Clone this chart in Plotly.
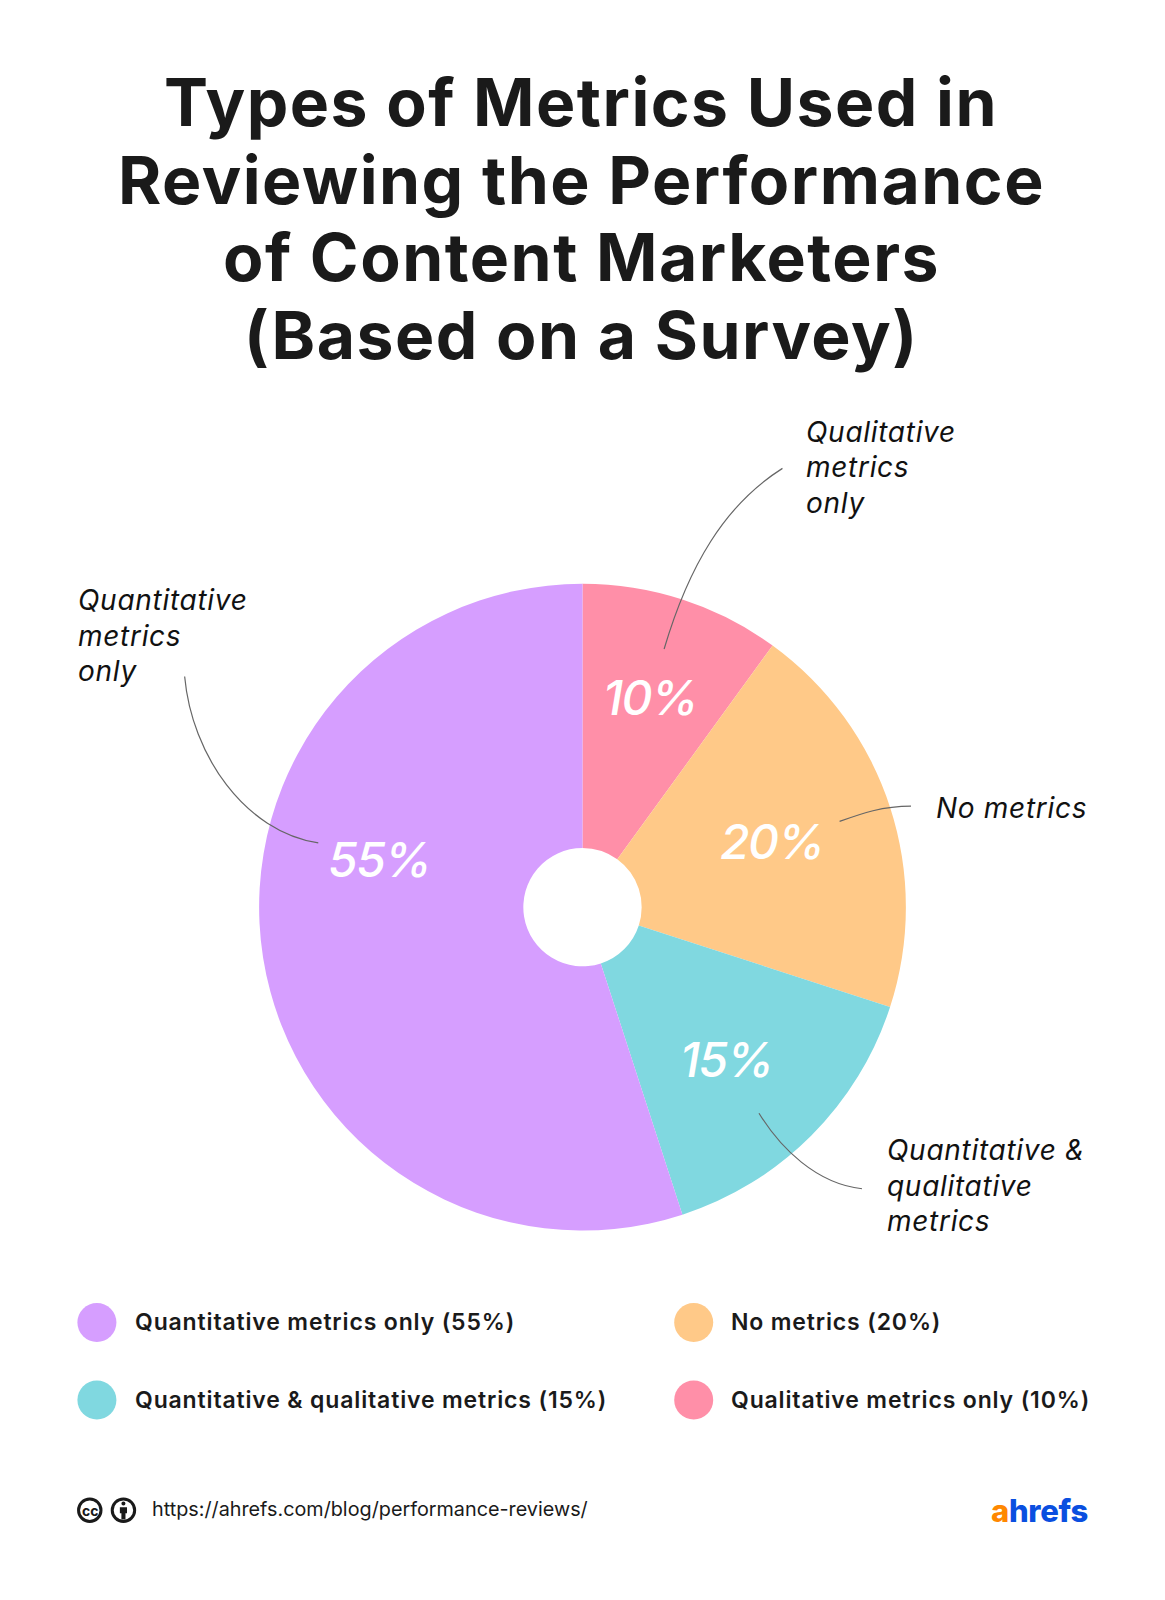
import plotly.graph_objects as go

# Data
title_lines = ['Types of Metrics Used in', 'Reviewing the Performance', 'of Content Marketers', '(Based on a Survey)']
categories = ['Qualitative metrics only', 'No metrics', 'Quantitative & qualitative metrics', 'Quantitative metrics only']
values = [10, 20, 15, 55]
colors = ['#FF8FA8', '#FFC988', '#80D8E0', '#D69EFF']

value_labels = ['10%', '20%', '15%', '55%']
value_x = [637, 757, 712, 372]
value_y = [684, 825, 1038, 842]

callouts = [['Qualitative', 'metrics', 'only'], ['No metrics'], ['Quantitative &', 'qualitative', 'metrics'],
            ['Quantitative', 'metrics', 'only']]
callout_x = [790, 918, 869, 76]
callout_y = [423, 792, 1127, 588]
callout_paths = ['M 767 459 C 710 495, 675 555, 651 636',
                 'M 893 790 C 865 790, 845 797, 823 805',
                 'M 845 1165 C 800 1160, 765 1125, 744 1091',
                 'M 181 663 C 188 740, 240 815, 312 826']

legend_labels = ['Quantitative metrics only (55%)', 'No metrics (20%)',
                 'Quantitative & qualitative metrics (15%)', 'Qualitative metrics only (10%)']
legend_colors = ['#D69EFF', '#FFC988', '#80D8E0', '#FF8FA8']
legend_x = [95, 680, 95, 680]
legend_y = [1296, 1296, 1372, 1372]

W, H = 1142, 1568  # picture units used on the hidden axes
BODY = 8 * W / 1165  # the page body margin, in picture units
cx, cy, r = 571, 889, 317

FONT = 'Inter'
INK = '#1a1a1a'

fig = go.Figure()

fig.add_trace(go.Pie(
    labels=categories, values=values, sort=False, direction='clockwise', rotation=0,
    hole=58 / 317, marker=dict(colors=colors, line=dict(width=0)), textinfo='none',
    domain=dict(x=[(cx - r - BODY) / (W - BODY), (cx + r - BODY) / (W - BODY)],
                y=[1 - (cy + r - BODY) / (H - BODY), 1 - (cy - r - BODY) / (H - BODY)]),
    showlegend=False, hoverinfo='label+percent',
))

fig.add_trace(go.Scatter(
    x=legend_x, y=legend_y, mode='markers', hoverinfo='skip', showlegend=False,
    marker=dict(size=39, color=legend_colors, line=dict(width=0)),
))


def add_text(x, y, text, size, color=INK, anchor='left', weight='normal', style='normal', spacing=0):
    # letter-spacing has no font option, the span style carries it through to the svg
    if spacing:
        text = f'<span style="letter-spacing:{spacing}px">{text}</span>'
    fig.add_annotation(x=x, y=y, xref='x', yref='y', text=text, showarrow=False, xanchor=anchor, yanchor='middle',
                       borderpad=0, borderwidth=0,
                       font=dict(family=FONT, size=size, color=color, weight=weight, style=style))


for i, line in enumerate(title_lines):
    add_text(570, 100 + 76 * i, line, 66, anchor='center', weight='bold', spacing=1.5)

for label, x, y in zip(value_labels, value_x, value_y):
    add_text(x, y, label, 48, color='white', anchor='center', style='italic', weight=500, spacing=-1.5)

for lines, x, y in zip(callouts, callout_x, callout_y):
    for i, line in enumerate(lines):
        add_text(x, y + 35 * i, line, 28, color='#111111', style='italic', spacing=0.7)

for path in callout_paths:
    fig.add_shape(type='path', path=path, xref='x', yref='y', line=dict(color='#666666', width=1.2))

for label, x, y in zip(legend_labels, legend_x, legend_y):
    add_text(x + 37, y, label, 23, weight=600, spacing=0.85)

# Footer: licence badges, link and logo
for x in [88, 121]:
    fig.add_shape(type='circle', xref='x', yref='y', x0=x - 11, x1=x + 11, y0=1469, y1=1491,
                  line=dict(color=INK, width=3))
add_text(88, 1480, 'cc', 14, anchor='center', weight='bold')
fig.add_shape(type='circle', xref='x', yref='y', x0=119, x1=123, y0=1471.5, y1=1475.5,
              fillcolor=INK, line=dict(width=0))
fig.add_shape(type='path', xref='x', yref='y', fillcolor=INK, line=dict(width=0),
              path='M 117.5 1477 L 124.5 1477 L 124.5 1483 L 123 1483 L 123 1489 L 119 1489 L 119 1483 L 117.5 1483 Z')
add_text(149, 1479, 'https://ahrefs.com/blog/performance-reviews/', 19.8)
add_text(971, 1480, '<span style="color:#FF8800">a</span><span style="color:#0A4FE0">hrefs</span>', 31,
         color='#0A4FE0', weight=800, spacing=-0.3)

fig.update_layout(
    width=1157, height=1592, margin=dict(l=0, r=0, t=0, b=0),
    paper_bgcolor='white', plot_bgcolor='white', showlegend=False,
    xaxis=dict(range=[BODY, W], visible=False, fixedrange=True),
    yaxis=dict(range=[H, BODY], visible=False, fixedrange=True),
)

fig.write_html("out.html")
